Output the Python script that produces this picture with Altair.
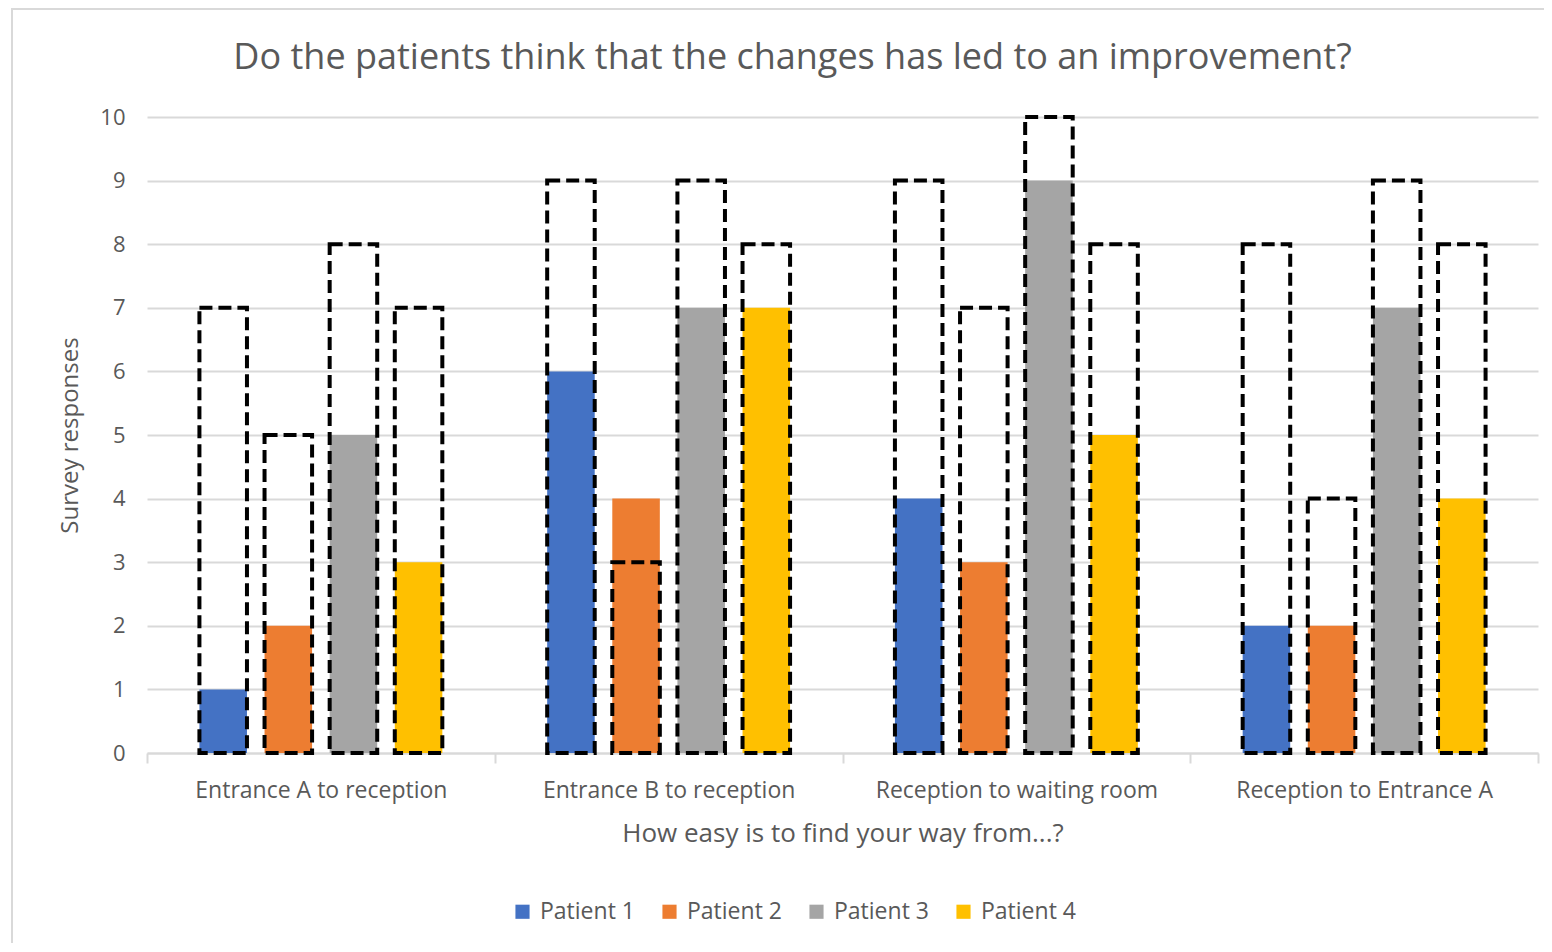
import altair as alt
import pandas as pd

routes = ["Entrance A to reception", "Entrance B to reception",
          "Reception to waiting room", "Reception to Entrance A"]
patients = ["Patient 1", "Patient 2", "Patient 3", "Patient 4"]
colors = ["#4472C4", "#ED7D31", "#A5A5A5", "#FFC000"]

# filled bars (per route, per patient)
filled_entrance_a = [1, 2, 5, 3]
filled_entrance_b = [6, 4, 7, 7]
filled_waiting = [4, 3, 9, 5]
filled_reception_a = [2, 2, 7, 4]

# dashed outline bars
dashed_entrance_a = [7, 5, 8, 7]
dashed_entrance_b = [9, 3, 9, 8]
dashed_waiting = [9, 7, 10, 8]
dashed_reception_a = [8, 4, 9, 8]

filled = [filled_entrance_a, filled_entrance_b, filled_waiting, filled_reception_a]
dashed = [dashed_entrance_a, dashed_entrance_b, dashed_waiting, dashed_reception_a]

rows = []
for i, r in enumerate(routes):
    for j, p in enumerate(patients):
        rows.append({"route": r, "patient": p, "filled": filled[i][j], "dashed": dashed[i][j]})
df = pd.DataFrame(rows)

FONT = "Open Sans"
TXT = "#595959"
GRID = "#D9D9D9"

x_enc = alt.X("route:N", sort=routes,
              scale=alt.Scale(paddingInner=0, paddingOuter=0),
              axis=alt.Axis(title="How easy is to find your way from...?", labelAngle=0,
                            tickBand="extent", tickSize=10, tickWidth=2, tickColor=GRID,
                            domainColor=GRID, domainWidth=2, labelPadding=16,
                            labelLimit=0,
                            labelFontSize=23, labelColor=TXT, labelFont=FONT,
                            titleFontSize=26, titleColor=TXT, titleFont=FONT,
                            titleFontWeight="normal", titlePadding=18, grid=False))
xoff = alt.XOffset("patient:N", sort=patients,
                   scale=alt.Scale(paddingInner=0.27, paddingOuter=0.805))

y_axis = alt.Axis(title="Survey responses", values=list(range(0, 11)), format="d",
                  domain=False, ticks=False, labelPadding=22, labelFontSize=22,
                  labelColor=TXT, labelFont=FONT, titleFontSize=24, titleColor=TXT,
                  titleFont=FONT, titleFontWeight="normal", titlePadding=17,
                  gridColor=GRID, gridWidth=2)

bars = alt.Chart(df).mark_bar().encode(
    x=x_enc, xOffset=xoff,
    y=alt.Y("filled:Q", scale=alt.Scale(domain=[0, 10], nice=False), axis=y_axis),
    color=alt.Color("patient:N", sort=patients,
                    scale=alt.Scale(domain=patients, range=colors),
                    legend=alt.Legend(title=None, orient="none", direction="horizontal",
                                      legendX=364, legendY=783, symbolType="square",
                                      symbolSize=200, symbolStrokeWidth=0,
                                      labelFontSize=23, labelColor=TXT, labelFont=FONT,
                                      columnPadding=23, symbolOffset=0, labelOffset=6)),
)

outline = alt.Chart(df).mark_bar(fill=None, stroke="black", strokeWidth=4,
                                 strokeDash=[13, 6]).encode(
    x=alt.X("route:N", sort=routes), xOffset=alt.XOffset("patient:N", sort=patients),
    y=alt.Y("dashed:Q"),
)

frame = alt.Chart(pd.DataFrame({"a": [0]})).mark_rect(
    fill=None, stroke=GRID, strokeWidth=2, clip=False).encode(
    x=alt.value(-135), x2=alt.value(1500), y=alt.value(-108), y2=alt.value(900))

chart = alt.layer(frame, bars, outline).properties(
    width=1391, height=636,
    title=alt.TitleParams("Do the patients think that the changes has led to an improvement?",
                          fontSize=36, color=TXT, font=FONT, fontWeight="normal",
                          anchor="middle", frame="group", dx=-50, offset=-69),
    autosize=alt.AutoSizeParams(type="none"),
    padding={"left": 139, "top": 109, "right": 6, "bottom": 190},
).configure_view(stroke=None)

chart.save("out.html", embed_options={"renderer": "svg", "actions": False})
